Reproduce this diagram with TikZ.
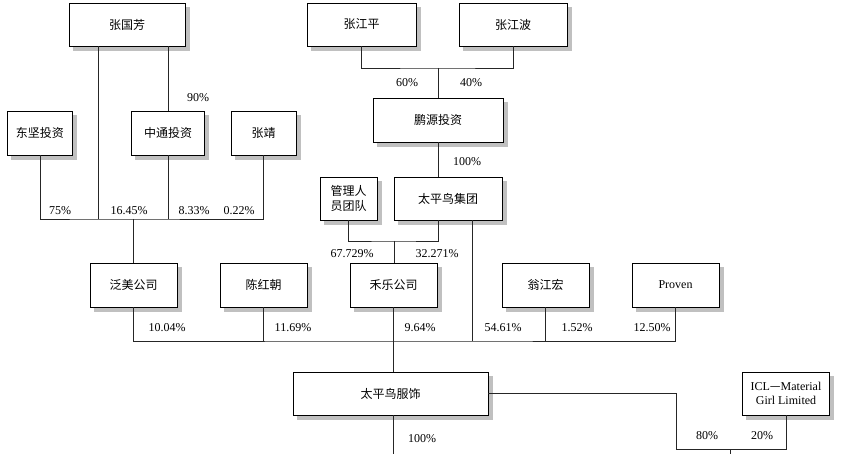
\documentclass[tikz,border=0pt]{standalone}
\usepackage{fontspec}
\setmainfont{Liberation Serif}
\newfontfamily\cjk{Noto Sans CJK SC}
\definecolor{shadowgrey}{RGB}{192,192,192}

\begin{document}
\begin{tikzpicture}[x=1pt, y=-1pt,
	box/.style={draw=black, fill=white, line width=0.8pt, shape=rectangle, minimum height=43pt, align=center,
		font=\cjk\fontsize{12}{15}\selectfont},
	boxshadow/.style={draw=shadowgrey, line width=4pt, line join=miter},
	pct/.style={inner sep=0pt, font=\fontsize{12}{14}\selectfont},
	link/.style={draw=black!85, line width=0.8pt}]
	\useasboundingbox (0,0) rectangle (852,454);

	% top row
	\node[box, minimum width=116pt] (p_zgf) at (127,24.5) {张国芳};
	\node[box, minimum width=109pt] (p_zjp) at (361.5,24.5) {张江平};
	\node[box, minimum width=108pt] (p_zjb) at (513,24.5) {张江波};

	\node[box, minimum width=65pt, minimum height=44pt] (c_dj) at (40,133) {东坚投资};
	\node[box, minimum width=73pt, minimum height=44pt] (c_zt) at (168,133) {中通投资};
	\node[box, minimum width=65pt, minimum height=44pt] (p_zj) at (263.5,133) {张靖};
	\node[box, minimum width=130pt, minimum height=44pt] (c_py) at (438,120) {鹏源投资};

	\node[box, minimum width=57pt] (g_gl) at (348.5,198.5) {管理人\\员团队};
	\node[box, minimum width=108pt] (c_tpn) at (448,198.5) {太平鸟集团};

	% shareholders
	\node[box, minimum width=87pt, minimum height=44pt] (c_fm) at (133.5,285) {泛美公司};
	\node[box, minimum width=87pt, minimum height=44pt] (p_chc) at (263.5,285) {陈红朝};
	\node[box, minimum width=87pt, minimum height=44pt] (c_hl) at (393.5,285) {禾乐公司};
	\node[box, minimum width=87pt, minimum height=44pt] (p_wjh) at (545.5,285) {翁江宏};
	\node[box, minimum width=87pt, minimum height=44pt, font=\fontsize{12}{14}\selectfont] (c_pv) at (675.5,285) {Proven};

	\node[box, minimum width=195pt] (c_tpf) at (390.5,393.5) {太平鸟服饰};
	\node[box, minimum width=87pt, font=\fontsize{12}{14}\selectfont] (c_icl) at (786,393.5) {ICL{\cjk —}Material\\Girl Limited};

	% shadows
	\foreach \n in {p_zgf,p_zjp,p_zjb,c_dj,c_zt,p_zj,c_py,g_gl,c_tpn,c_fm,p_chc,c_hl,p_wjh,c_pv,c_tpf,c_icl}
		\draw[boxshadow] ([xshift=4pt,yshift=-2.4pt]\n.south west) -- ([xshift=2.4pt,yshift=-2.4pt]\n.south east) -- ([xshift=2.4pt,yshift=-4pt]\n.north east);

	% junctions
	\coordinate (j_zgf) at (98,219);
	\coordinate (j_py) at (438,68);
	\coordinate (j_hl) at (394,241);
	\coordinate (j_tpn) at (472,341);
	\coordinate (j_bus) at (393,341);
	\coordinate (k_sub) at (676,449);
	\coordinate (j_sub) at (730,449);
	\coordinate (e_sub1) at (393,454);
	\coordinate (e_sub2) at (730,454);

	\draw[link] (p_zgf.south -| j_zgf) -- (j_zgf);
	\draw[link] (p_zgf.south -| c_zt.north) -- (c_zt.north);
	\draw[link] (c_dj.south) |- (j_zgf) -| (p_zj.south);
	\draw[link] (c_zt.south) -- (c_zt.south |- j_zgf);
	\draw[link] (c_fm.north |- j_zgf) -- (c_fm.north);

	\draw[link] (p_zjp.south) |- (j_py) -| (p_zjb.south);
	\draw[link] (j_py) -- (c_py.north);
	\draw[link] (c_py.south) -- (c_py.south |- c_tpn.north);
	\draw[link] (g_gl.south) |- (j_hl) -| (c_tpn.south -| c_py.south);
	\draw[link] (j_hl) -- (j_hl |- c_hl.north);

	\draw[link] (c_fm.south) |- (j_bus) -| (c_pv.south);
	\draw[link] (p_chc.south) -- (p_chc.south |- j_bus);
	\draw[link] (c_tpn.south -| j_tpn) -- (j_tpn);
	\draw[link] (p_wjh.south) -- (p_wjh.south |- j_bus);
	\draw[link] (c_hl.south -| j_bus) -- (c_tpf.north -| j_bus);

	\draw[link] (c_tpf.south -| e_sub1) -- (e_sub1);
	\draw[link] (c_tpf.east) -| (k_sub) -| (c_icl.south);
	\draw[link] (j_sub) -- (e_sub2);

	% percentages
	\node[pct] (l_1) at (198,98) {90\%};
	\node[pct] (l_2) at (60,211) {75\%};
	\node[pct] (l_3) at (129,211) {16.45\%};
	\node[pct] (l_4) at (194,211) {8.33\%};
	\node[pct] (l_5) at (239,211) {0.22\%};
	\node[pct] (l_6) at (407,83) {60\%};
	\node[pct] (l_7) at (471,83) {40\%};
	\node[pct] (l_8) at (467,162) {100\%};
	\node[pct] (l_9) at (352,254) {67.729\%};
	\node[pct] (l_10) at (437,254) {32.271\%};
	\node[pct] (l_11) at (167,328) {10.04\%};
	\node[pct] (l_12) at (293,328) {11.69\%};
	\node[pct] (l_13) at (420,328) {9.64\%};
	\node[pct] (l_14) at (503,328) {54.61\%};
	\node[pct] (l_15) at (577,328) {1.52\%};
	\node[pct] (l_16) at (652,328) {12.50\%};
	\node[pct] (l_17) at (422,439) {100\%};
	\node[pct] (l_18) at (707,436) {80\%};
	\node[pct] (l_19) at (762,436) {20\%};
\end{tikzpicture}
\end{document}
